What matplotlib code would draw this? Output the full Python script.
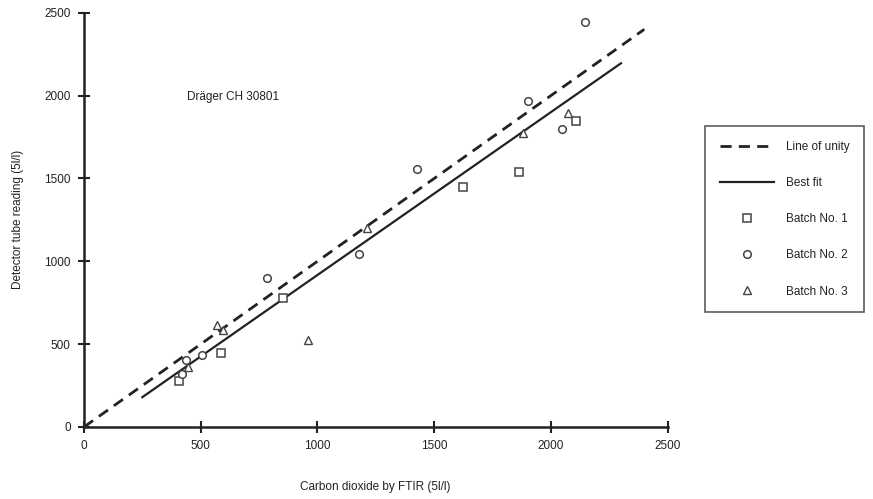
import matplotlib
matplotlib.use("Agg")
import matplotlib.pyplot as plt

plt.rcParams['font.family'] = ['Liberation Sans', 'DejaVu Sans']

# Data
batch1_x = [408, 585, 854, 1622, 1864, 2107]
batch1_y = [280, 449, 780, 1450, 1537, 1847]

batch2_x = [421, 435, 507, 782, 1179, 1425, 1903, 2048, 2146]
batch2_y = [320, 404, 433, 901, 1042, 1555, 1969, 1797, 2446]

batch3_x = [447, 568, 594, 961, 1211, 1879, 2074]
batch3_y = [364, 616, 585, 525, 1203, 1772, 1893]

unity_x = [0, 2400]
unity_y = [0, 2400]

fit_x = [250, 2300]
fit_y = [180, 2195]

ticks = [0, 500, 1000, 1500, 2000, 2500]

fig = plt.figure(figsize=(8.73, 4.99), dpi=100)
ax = fig.add_axes([0.0962, 0.1443, 0.6686, 0.8302])

l1, = ax.plot(unity_x, unity_y, color='#222222', lw=2.0, ls=(0, (4, 2.6)),
              label='Line of unity')
l2, = ax.plot(fit_x, fit_y, color='#222222', lw=1.6, label='Best fit')
s1, = ax.plot(batch1_x, batch1_y, ls='none', marker='s', ms=6, mfc='white',
              mec='#444444', mew=1.1, label='Batch No. 1', clip_on=False)
s2, = ax.plot(batch2_x, batch2_y, ls='none', marker='o', ms=5.5, mfc='white',
              mec='#444444', mew=1.1, label='Batch No. 2', clip_on=False)
s3, = ax.plot(batch3_x, batch3_y, ls='none', marker='^', ms=5.5, mfc='white',
              mec='#444444', mew=1.0, label='Batch No. 3', clip_on=False)

ax.set_xlim(0, 2500)
ax.set_ylim(0, 2500)
ax.set_xticks(ticks)
ax.set_yticks(ticks)
ax.spines['top'].set_visible(False)
ax.spines['right'].set_visible(False)
for sp in ('left', 'bottom'):
    ax.spines[sp].set_linewidth(1.8)
    ax.spines[sp].set_color('#222222')
ax.tick_params(direction='inout', length=9, width=1.5, color='#222222',
               labelsize=8.5, labelcolor='#222222', pad=5)

ax.text(440, 1990, 'Dräger CH 30801', fontsize=8.5, color='#222222',
        va='center', ha='left')

ax.set_xlabel('Carbon dioxide by FTIR (5l/l)', fontsize=8.5, color='#222222')
ax.set_ylabel('Detector tube reading (5l/l)', fontsize=8.5, color='#222222')
ax.xaxis.set_label_coords(0.4985, -0.145)
ax.yaxis.set_label_coords(-0.113, 0.5)
ax.xaxis.label.set_va('center')
ax.yaxis.label.set_va('center')

leg = fig.legend(handles=[l1, l2, s1, s2, s3], loc='upper left',
                 bbox_to_anchor=(0.8076, 0.7475), frameon=True, fancybox=False,
                 fontsize=8.5, handlelength=4.6, handletextpad=1.0,
                 labelspacing=2.05, borderpad=1.25, borderaxespad=0,
                 edgecolor='#333333')
leg.get_frame().set_linewidth(1.2)
for t in leg.get_texts():
    t.set_color('#222222')

fig.savefig('out.png', dpi=100, facecolor='white')
